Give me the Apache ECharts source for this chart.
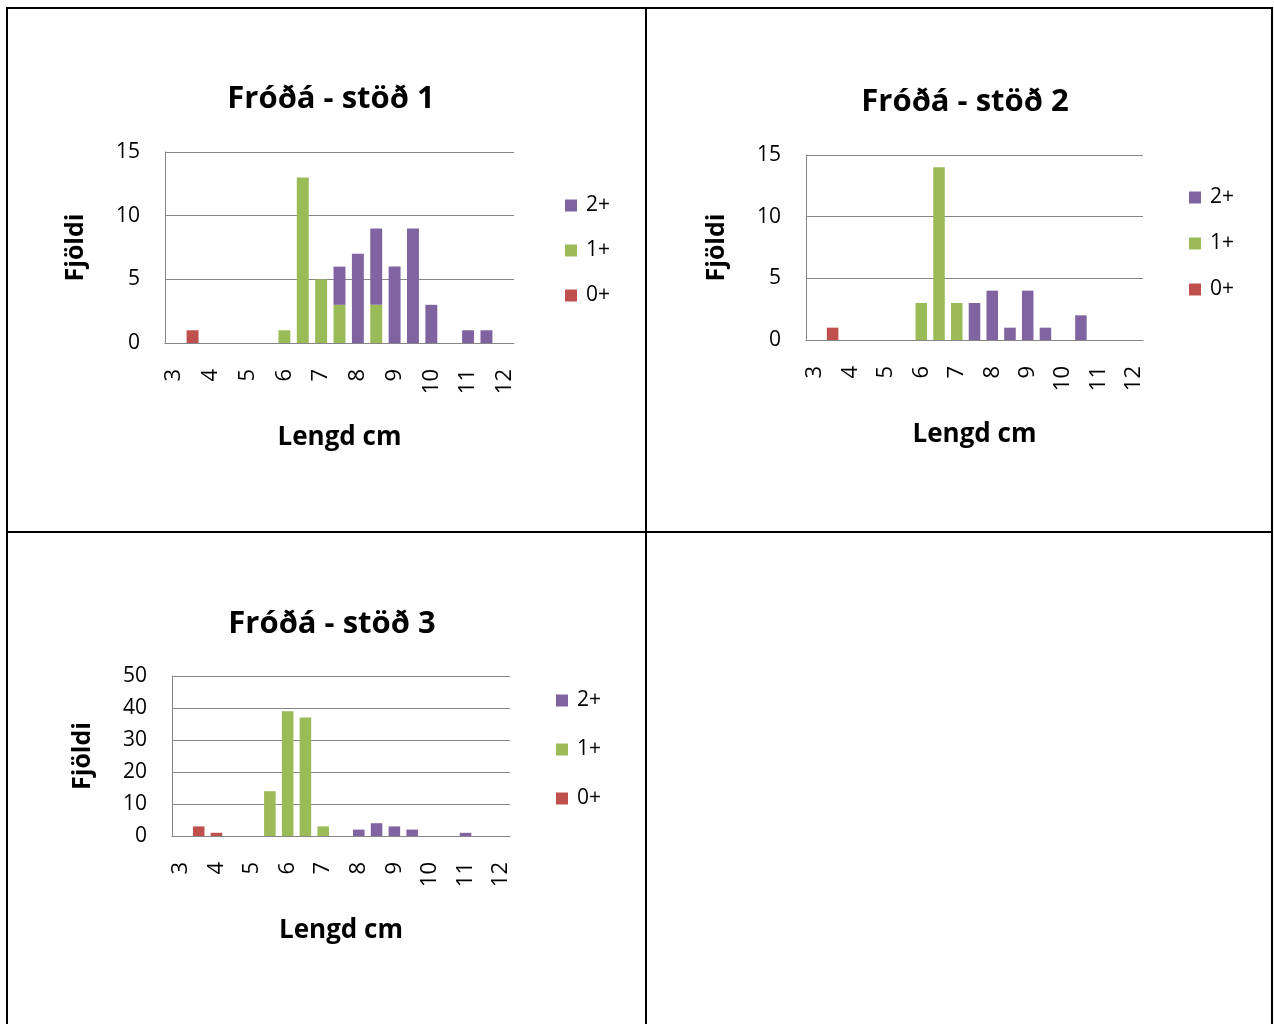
<!DOCTYPE html>
<html>
<head>
<meta charset="utf-8">
<script src="https://cdn.jsdelivr.net/npm/echarts@6/dist/echarts.min.js"></script>
<style>
html,body{margin:0;padding:0;background:#fff;}
#c{width:1274px;height:1024px;}
</style>
</head>
<body>
<div id="c"></div>
<script>
// Length bins (cm)
const categories = ['3','3.5','4','4.5','5','5.5','6','6.5','7','7.5','8','8.5','9','9.5','10','10.5','11','11.5','12'];
const seriesNames = ['0+','1+','2+'];
const legendOrder = ['2+','1+','0+'];
const chartTitles = ['Fróðá - stöð 1','Fróðá - stöð 2','Fróðá - stöð 3'];
const xName = 'Lengd cm';
const yName = 'Fjöldi';

// Stöð 1
const st1_0 = [0,1,0,0,0,0,0,0,0,0,0,0,0,0,0,0,0,0,0];
const st1_1 = [0,0,0,0,0,0,1,13,5,3,0,3,0,0,0,0,0,0,0];
const st1_2 = [0,0,0,0,0,0,0,0,0,3,7,6,6,9,3,0,1,1,0];
// Stöð 2
const st2_0 = [0,1,0,0,0,0,0,0,0,0,0,0,0,0,0,0,0,0,0];
const st2_1 = [0,0,0,0,0,0,3,14,3,0,0,0,0,0,0,0,0,0,0];
const st2_2 = [0,0,0,0,0,0,0,0,0,3,4,1,4,1,0,2,0,0,0];
// Stöð 3
const st3_0 = [0,3,1,0,0,0,0,0,0,0,0,0,0,0,0,0,0,0,0];
const st3_1 = [0,0,0,0,0,14,39,37,3,0,0,0,0,0,0,0,0,0,0];
const st3_2 = [0,0,0,0,0,0,0,0,0,0,2,4,3,2,0,0,1,0,0];

const yMax = [15,15,50];
const yInterval = [5,5,10];

const colors = {'0+':'#C0504D','1+':'#9BBB59','2+':'#8064A2'};
const FONT = '"Open Sans", Lato, sans-serif';

const layout = [
  {grid:{left:165,top:152,width:349,height:191}, title:{x:326,y:79}, legend:{x:560,y:190,gap:24}},
  {grid:{left:806,top:155,width:337,height:185}, title:{x:960,y:82}, legend:{x:1184,y:182,gap:25}},
  {grid:{left:172,top:676,width:338,height:160}, title:{x:327,y:604}, legend:{x:551,y:685,gap:28}}
];
const data = [[st1_0,st1_1,st1_2],[st2_0,st2_1,st2_2],[st3_0,st3_1,st3_2]];

const option = {
  animation:false,
  backgroundColor:'#fff',
  textStyle:{fontFamily:FONT},
  title: layout.map((l,i)=>({
    text: chartTitles[i], left:l.title.x, top:l.title.y, textAlign:'center',
    textStyle:{fontFamily:FONT,fontWeight:'bold',fontSize:31,color:'#000'}
  })),
  legend: layout.map((l)=>({
    data: legendOrder, orient:'vertical', left:l.legend.x, top:l.legend.y,
    itemGap:l.legend.gap, icon:'rect', itemWidth:12, itemHeight:12,
    selectedMode:false,
    textStyle:{fontFamily:FONT,fontSize:21,color:'#000',padding:[0,0,0,4]}
  })),
  grid: layout.map(l=>Object.assign({containLabel:false},l.grid)),
  xAxis: layout.map((l,i)=>({
    type:'category', gridIndex:i, data:categories,
    name:xName, nameLocation:'middle', nameGap:82,
    nameTextStyle:{fontFamily:FONT,fontWeight:'bold',fontSize:26,color:'#000'},
    axisLine:{lineStyle:{color:'#868686',width:1}},
    axisTick:{show:false},
    axisLabel:{interval:1,rotate:90,margin:26,fontFamily:FONT,fontSize:22,color:'#000'},
    splitLine:{show:false}
  })),
  yAxis: layout.map((l,i)=>({
    type:'value', gridIndex:i, min:0, max:yMax[i], interval:yInterval[i],
    name:yName, nameLocation:'middle', nameGap:77,
    nameTextStyle:{fontFamily:FONT,fontWeight:'bold',fontSize:25,color:'#000'},
    axisLine:{show:true,lineStyle:{color:'#868686',width:1}},
    axisTick:{show:false},
    axisLabel:{margin:25,fontFamily:FONT,fontSize:21,color:'#000'},
    splitLine:{show:true,lineStyle:{color:'#868686',width:1}}
  })),
  series: [],
  graphic: [
    {type:'line',shape:{x1:6,y1:8,x2:1273,y2:8},style:{stroke:'#000',lineWidth:2}},
    {type:'line',shape:{x1:7,y1:8,x2:7,y2:1024},style:{stroke:'#000',lineWidth:2}},
    {type:'line',shape:{x1:646,y1:8,x2:646,y2:1024},style:{stroke:'#000',lineWidth:2}},
    {type:'line',shape:{x1:1272,y1:8,x2:1272,y2:1024},style:{stroke:'#000',lineWidth:2}},
    {type:'line',shape:{x1:7,y1:532,x2:1272,y2:532},style:{stroke:'#000',lineWidth:2}}
  ]
};

data.forEach((arrs,i)=>{
  arrs.forEach((vals,k)=>{
    option.series.push({
      type:'bar', name:seriesNames[k], xAxisIndex:i, yAxisIndex:i,
      stack:'s'+i, data:vals, barCategoryGap:'35%',
      itemStyle:{color:colors[seriesNames[k]]}
    });
  });
});

const chart = echarts.init(document.getElementById('c'),null,{renderer:'canvas'});
chart.setOption(option);
</script>
</body>
</html>
